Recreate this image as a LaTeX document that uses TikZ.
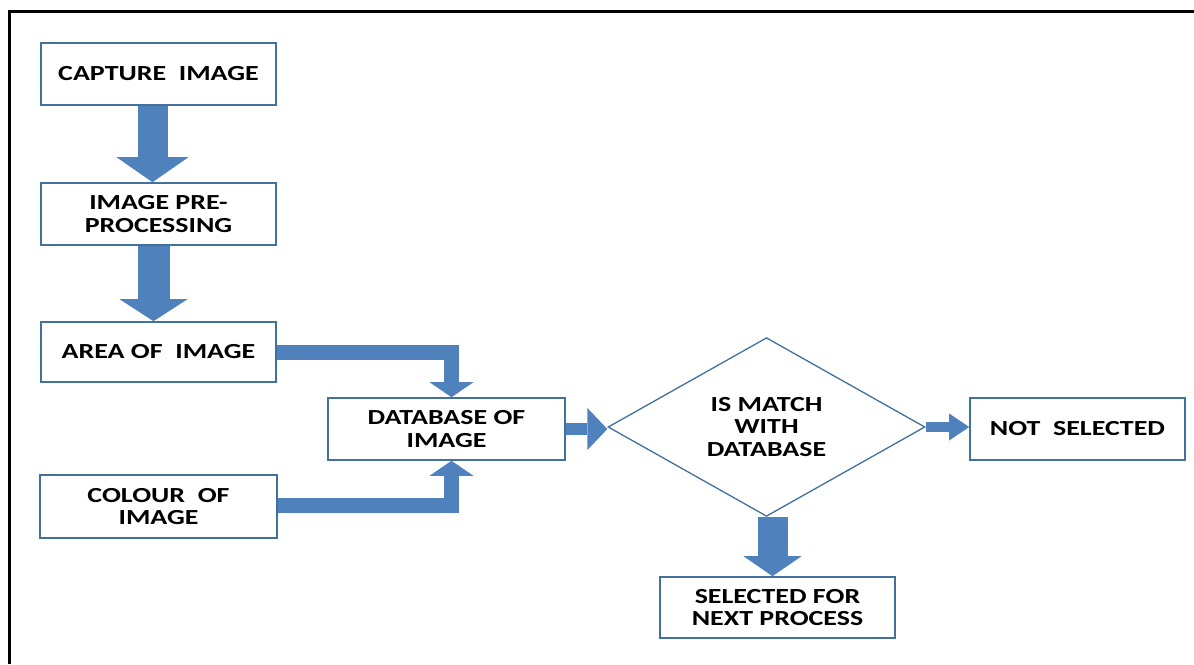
\documentclass[tikz,border=0pt]{standalone}
\usepackage{fontspec}
\setmainfont{Carlito}[FakeStretch=1.3]
\usetikzlibrary{shapes.geometric,arrows.meta}
\definecolor{arrowblue}{HTML}{4F81BD}
\definecolor{boxblue}{HTML}{41719C}
\tikzset{
  lbl/.style={font=\bfseries\fontsize{21.5}{22.5}\selectfont, align=center, text=black},
  box/.style={lbl, draw=boxblue, line width=1.6pt, fill=white, minimum width=235pt, minimum height=62pt, inner sep=0pt},
  decision/.style={lbl, diamond, draw=boxblue, line width=1.3pt, fill=white, minimum width=317pt, minimum height=176pt, inner sep=0pt},
  fat/.style n args={3}{draw=arrowblue, line width=#1, line join=miter, line cap=butt,
      -{Triangle[width=#2,length=#3,line width=0pt,fill=arrowblue]}},
}
\begin{document}
\begin{tikzpicture}[x=1pt,y=-1pt]
\useasboundingbox (0,0) rectangle (1194,664);
% frame
\draw[line width=3pt, black] (9.5,664) -- (9.5,11) -- (1194,11);
% nodes
\node[box] (cap) at (158.5,74) {CAPTURE\ \ IMAGE};
\node[box] (pre) at (158.5,214) {IMAGE PRE-\\PROCESSING};
\node[box, minimum height=60pt] (area) at (158.5,352) {AREA OF\ \ IMAGE};
\node[box, minimum width=237pt, minimum height=63pt] (col) at (158.5,506.5) {COLOUR\ \ OF\\IMAGE};
\node[box, minimum width=237pt] (db) at (446.5,429) {DATABASE OF\\IMAGE};
\node[decision] (dia) at (766.5,427) {IS MATCH\\WITH\\DATABASE};
\node[box, minimum width=215pt] (ns) at (1077.5,429) {NOT\ \ SELECTED};
\node[box, minimum height=61pt] (sel) at (777.5,607.5) {SELECTED FOR\\NEXT PROCESS};
% connectors
\draw[fat={30pt}{72pt}{25pt}] ([xshift=-6pt]cap.south) -- ([xshift=-6pt]pre.north);
\draw[fat={32pt}{68pt}{22pt}] ([xshift=-5pt]pre.south) -- ([xshift=-5pt]area.north);
\draw[fat={15pt}{44pt}{15pt}] (area.east) -| ([xshift=5pt]db.north);
\draw[fat={15pt}{44pt}{15pt}] ([yshift=1.5pt]col.east) -| ([xshift=5pt]db.south);
\draw[fat={12pt}{42pt}{20pt}] (db.east) -- (db.east -| dia.west);
\draw[fat={10pt}{27pt}{20pt}] (dia.east) -- (dia.east -| ns.west);
\draw[fat={30pt}{58pt}{20pt}] ([xshift=6pt]dia.south) -- ([xshift=6pt]dia.south |- sel.north);
\end{tikzpicture}
\end{document}
